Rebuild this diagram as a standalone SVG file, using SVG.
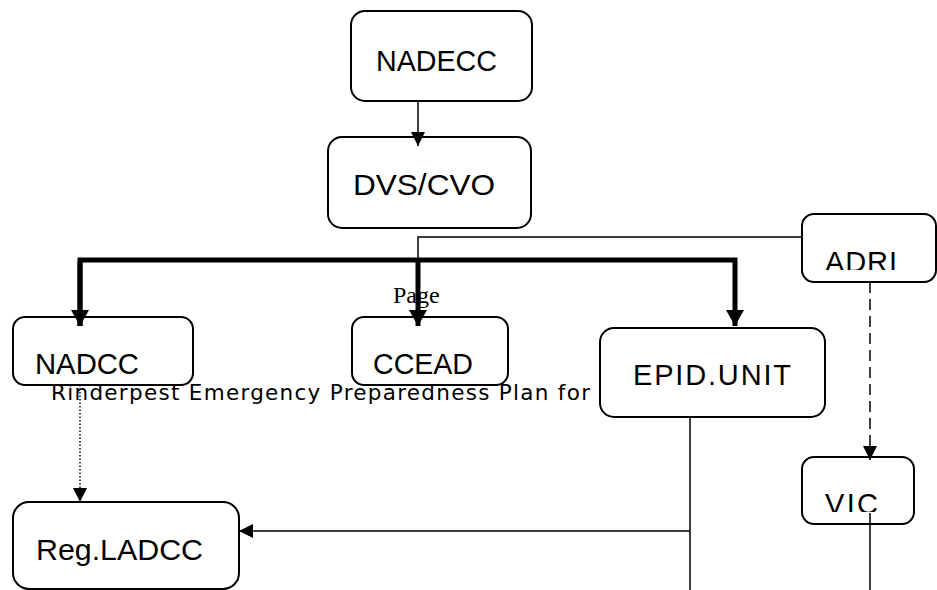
<svg xmlns="http://www.w3.org/2000/svg" width="937" height="590" viewBox="0 0 937 590">
<style>
.box{fill:#fff;stroke:#000;stroke-width:2}
.lbl{font-family:"Liberation Sans",Arial,sans-serif;font-size:29px;fill:#000}
.thin{fill:none;stroke:#000;stroke-width:1.5}
.thick{fill:none;stroke:#000;stroke-width:5}
</style>
<defs>
<marker id="ah" markerUnits="userSpaceOnUse" markerWidth="14" markerHeight="14" refX="14" refY="7" orient="auto">
<path d="M0,0 L14,7 L0,14 z" fill="#000"/>
</marker>
<marker id="ahb" markerUnits="userSpaceOnUse" markerWidth="16" markerHeight="18" refX="16" refY="9" orient="auto">
<path d="M0,0 L16,9 L0,18 z" fill="#000"/>
</marker>
<clipPath id="clipAdri"><rect x="802" y="214" width="134" height="56"/></clipPath>
<clipPath id="clipVic"><rect x="802" y="457" width="112" height="55"/></clipPath>
</defs>

<g id="page-text">
<text x="393" y="303" font-family="'Liberation Serif','Times New Roman',serif" font-size="24">Page</text>
</g>

<g id="n-nadecc"><rect class="box" x="351" y="11" width="181" height="90" rx="14"/><text class="lbl" x="376" y="71" textLength="121" lengthAdjust="spacingAndGlyphs">NADECC</text></g>
<g id="n-dvs"><rect class="box" x="328" y="137" width="203" height="91" rx="14"/><text class="lbl" x="353" y="195" style="font-size:30px" textLength="142" lengthAdjust="spacingAndGlyphs">DVS/CVO</text></g>
<g id="n-nadcc"><rect class="box" x="13" y="317" width="180" height="68" rx="12"/><text class="lbl" x="35" y="374" textLength="104" lengthAdjust="spacingAndGlyphs">NADCC</text></g>
<g id="n-ccead"><rect class="box" x="352" y="317" width="156" height="68" rx="12"/><text class="lbl" x="373" y="374" textLength="100" lengthAdjust="spacingAndGlyphs">CCEAD</text></g>
<g id="n-epid"><rect class="box" x="600" y="328" width="225" height="89" rx="14"/><text class="lbl" x="633" y="385" textLength="158" lengthAdjust="spacing">EPID.UNIT</text></g>
<g id="n-adri"><rect class="box" x="802" y="214" width="134" height="68" rx="12"/><text class="lbl" x="825" y="272" textLength="72" lengthAdjust="spacing" clip-path="url(#clipAdri)">ADRI</text></g>
<g id="n-vic"><rect class="box" x="802" y="457" width="112" height="67" rx="12"/><text class="lbl" x="825" y="514" textLength="53" lengthAdjust="spacing" clip-path="url(#clipVic)">VIC</text></g>
<g id="n-regladcc"><rect class="box" x="13" y="502" width="226" height="87" rx="16"/><text class="lbl" x="36" y="560" textLength="167" lengthAdjust="spacingAndGlyphs">Reg.LADCC</text></g>

<g id="connectors">
<line class="thin" x1="418" y1="101" x2="418" y2="146" marker-end="url(#ah)"/>
<polyline class="thin" points="802,237 418,237 418,262"/>
<polyline class="thick" points="80,326 80,260 735,260 735,326" marker-end="url(#ahb)"/>
<line class="thick" x1="80" y1="262" x2="80" y2="326" marker-end="url(#ahb)"/>
<line class="thick" x1="418" y1="260" x2="418" y2="326" marker-end="url(#ahb)"/>
<line class="thin" x1="80" y1="385" x2="80" y2="502" stroke-dasharray="1.5,2" marker-end="url(#ah)"/>
<line class="thin" x1="870" y1="282" x2="870" y2="460" stroke-dasharray="11,6" marker-end="url(#ah)"/>
<line class="thin" x1="690" y1="417" x2="690" y2="590"/>
<line class="thin" x1="690" y1="531" x2="239" y2="531" marker-end="url(#ah)"/>
<line class="thin" x1="870" y1="513" x2="870" y2="590"/>
</g>

<g id="caption">
<text x="51" y="400" font-family="'DejaVu Sans',Verdana,sans-serif" font-size="21.5" textLength="539" lengthAdjust="spacing">Rinderpest Emergency Preparedness Plan for</text>
</g>
</svg>
